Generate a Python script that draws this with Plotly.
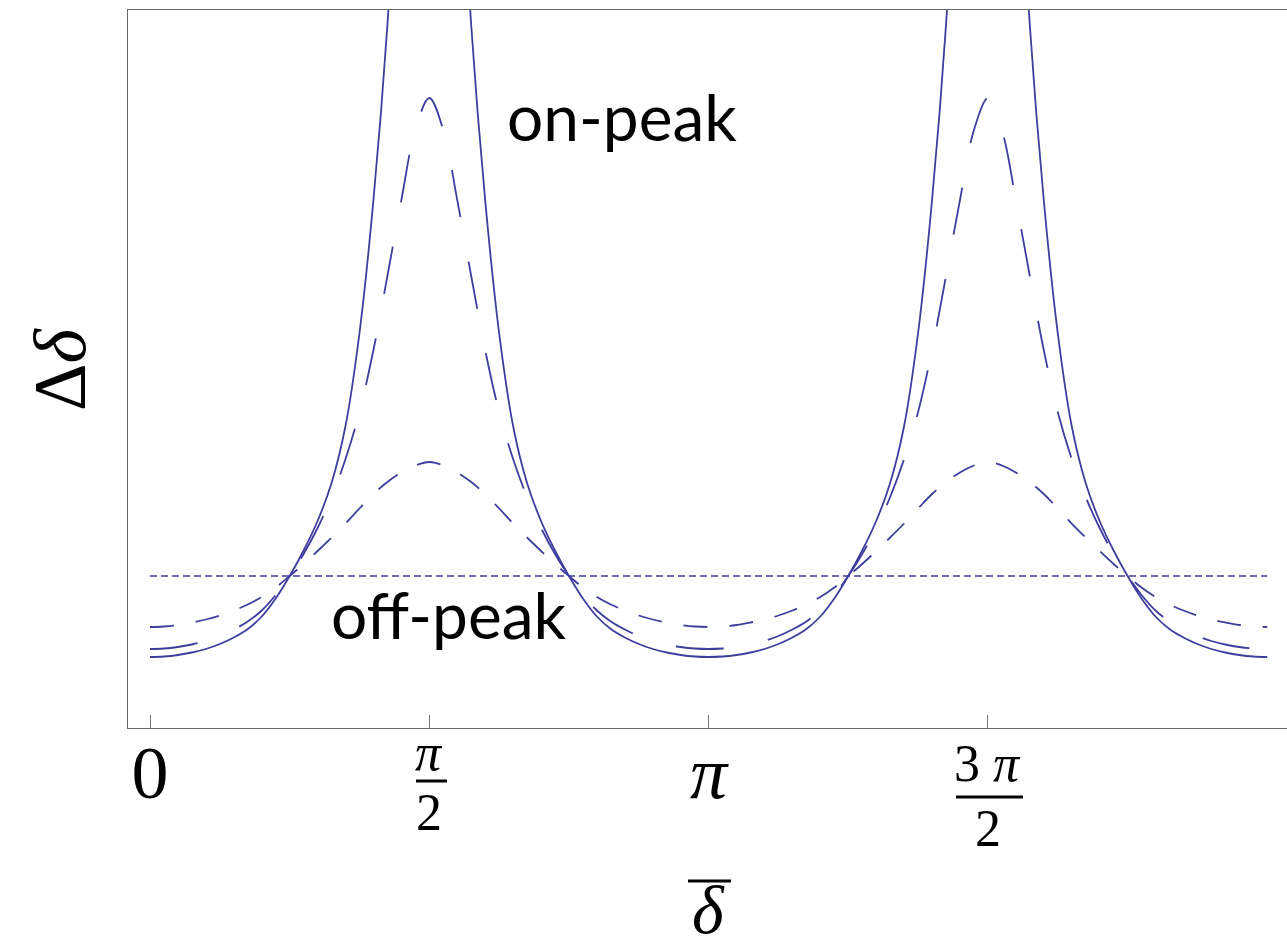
import numpy as np
import plotly.graph_objects as go

# sample positions, in units of pi
delta_over_pi = [0.000, 0.025, 0.050, 0.075, 0.100, 0.125, 0.150, 0.175, 0.200, 0.225,
                 0.250, 0.275, 0.300, 0.325, 0.350, 0.375, 0.400, 0.425, 0.450, 0.475,
                 0.500, 0.525, 0.550, 0.575, 0.600, 0.625, 0.650, 0.675, 0.700, 0.725,
                 0.750, 0.775, 0.800, 0.825, 0.850, 0.875, 0.900, 0.925, 0.950, 0.975,
                 1.000, 1.025, 1.050, 1.075, 1.100, 1.125, 1.150, 1.175, 1.200, 1.225,
                 1.250, 1.275, 1.300, 1.325, 1.350, 1.375, 1.400, 1.425, 1.450, 1.475,
                 1.500, 1.525, 1.550, 1.575, 1.600, 1.625, 1.650, 1.675, 1.700, 1.725,
                 1.750, 1.775, 1.800, 1.825, 1.850, 1.875, 1.900, 1.925, 1.950, 1.975,
                 2.000]

# solid curve (diverging on-peak)
solid = [0.710, 0.715, 0.730, 0.755, 0.790, 0.840, 0.905, 0.990, 1.115, 1.295,
         1.520, 1.775, 2.070, 2.450, 3.020, 3.950, 5.280, 7.030, 9.600, 12.50,
         14.00, 12.50, 9.600, 7.030, 5.280, 3.950, 3.020, 2.450, 2.070, 1.775,
         1.520, 1.295, 1.115, 0.990, 0.905, 0.840, 0.790, 0.755, 0.730, 0.715,
         0.710, 0.715, 0.730, 0.755, 0.790, 0.840, 0.905, 0.990, 1.115, 1.295,
         1.520, 1.775, 2.070, 2.450, 3.020, 3.950, 5.280, 7.030, 9.600, 12.50,
         14.00, 12.50, 9.600, 7.030, 5.280, 3.950, 3.020, 2.450, 2.070, 1.775,
         1.520, 1.295, 1.115, 0.990, 0.905, 0.840, 0.790, 0.755, 0.730, 0.715,
         0.710]

# long-dashed curve
long_dashed = [0.790, 0.795, 0.810, 0.835, 0.870, 0.920, 0.985, 1.065, 1.175, 1.330,
               1.520, 1.740, 2.000, 2.310, 2.690, 3.160, 3.780, 4.520, 5.280, 5.980,
               6.300, 5.980, 5.280, 4.520, 3.780, 3.160, 2.690, 2.310, 2.000, 1.740,
               1.520, 1.330, 1.175, 1.065, 0.985, 0.920, 0.870, 0.835, 0.810, 0.795,
               0.790, 0.795, 0.810, 0.835, 0.870, 0.920, 0.985, 1.065, 1.175, 1.330,
               1.520, 1.740, 2.000, 2.310, 2.690, 3.160, 3.780, 4.520, 5.280, 5.980,
               6.300, 5.980, 5.280, 4.520, 3.780, 3.160, 2.690, 2.310, 2.000, 1.740,
               1.520, 1.330, 1.175, 1.065, 0.985, 0.920, 0.870, 0.835, 0.810, 0.795,
               0.790]

# short-dashed curve
short_dashed = [1.010, 1.015, 1.030, 1.055, 1.085, 1.125, 1.175, 1.235, 1.310, 1.405,
                1.520, 1.640, 1.770, 1.905, 2.045, 2.195, 2.340, 2.460, 2.555, 2.625,
                2.660, 2.625, 2.555, 2.460, 2.340, 2.195, 2.045, 1.905, 1.770, 1.640,
                1.520, 1.405, 1.310, 1.235, 1.175, 1.125, 1.085, 1.055, 1.030, 1.015,
                1.010, 1.015, 1.030, 1.055, 1.085, 1.125, 1.175, 1.235, 1.310, 1.405,
                1.520, 1.640, 1.770, 1.905, 2.045, 2.195, 2.340, 2.460, 2.555, 2.625,
                2.660, 2.625, 2.555, 2.460, 2.340, 2.195, 2.045, 1.905, 1.770, 1.640,
                1.520, 1.405, 1.310, 1.235, 1.175, 1.125, 1.085, 1.055, 1.030, 1.015,
                1.010]

off_peak_x_over_pi = [0.0, 2.0]
off_peak_level = [1.52, 1.52]

tick_over_pi = [0.0, 0.5, 1.0, 1.5]
tick_text = ["0", "", "<i>π</i>", ""]

COL = "rgb(62,62,158)"
W, H = 1287, 950
L, R, T, B = 128, 0, 10, 222
PW, PH = W - L - R, H - T - B

x = [v * np.pi for v in delta_over_pi]

fig = go.Figure()
fig.add_trace(go.Scatter(x=[v * np.pi for v in off_peak_x_over_pi], y=off_peak_level,
                         mode="lines", line=dict(color=COL, width=1.7, dash="7px,4px")))
fig.add_trace(go.Scatter(x=x, y=short_dashed, mode="lines",
                         line=dict(color=COL, width=1.8, dash="24px,22px", shape="spline")))
fig.add_trace(go.Scatter(x=x, y=long_dashed, mode="lines",
                         line=dict(color=COL, width=1.8, dash="48px,45px", shape="spline")))
fig.add_trace(go.Scatter(x=x, y=solid, mode="lines",
                         line=dict(color=COL, width=1.8, shape="spline")))

def px2x(px):
    return (px - L) / PW

def py2y(py):
    return (H - B - py) / PH

serif = "Liberation Serif"
sans = "Lato"
ann = []
# fraction labels
ann.append(dict(x=0.5 * np.pi, xref="x", y=py2y(752), yref="paper", text="<i>π</i>",
                font=dict(family=serif, size=52, color="black"), showarrow=False,
                xanchor="center", yanchor="middle"))
ann.append(dict(x=0.5 * np.pi, xref="x", y=py2y(812), yref="paper", text="2",
                font=dict(family=serif, size=52, color="black"), showarrow=False,
                xanchor="center", yanchor="middle"))
ann.append(dict(x=1.5 * np.pi, xref="x", y=py2y(763), yref="paper", text="3 <i>π</i>",
                font=dict(family=serif, size=52, color="black"), showarrow=False,
                xanchor="center", yanchor="middle"))
ann.append(dict(x=1.5 * np.pi, xref="x", y=py2y(828), yref="paper", text="2",
                font=dict(family=serif, size=52, color="black"), showarrow=False,
                xanchor="center", yanchor="middle"))
# axis titles
ann.append(dict(x=1.0 * np.pi, xref="x", y=py2y(949), yref="paper", text="<i>δ</i>",
                font=dict(family=serif, size=68, color="black"), showarrow=False,
                xanchor="center", yanchor="bottom", borderpad=0))
ann.append(dict(x=px2x(60), xref="paper", y=py2y(369), yref="paper", text="Δ<i>δ</i>",
                font=dict(family=serif, size=74, color="black"), showarrow=False,
                textangle=-90, xanchor="center", yanchor="middle"))
# curve labels
ann.append(dict(x=px2x(622), xref="paper", y=py2y(117), yref="paper", text="on-peak",
                font=dict(family=sans, size=64, color="black"), showarrow=False,
                xanchor="center", yanchor="middle"))
ann.append(dict(x=px2x(448), xref="paper", y=py2y(614), yref="paper", text="off-peak",
                font=dict(family=sans, size=64, color="black"), showarrow=False,
                xanchor="center", yanchor="middle"))

shapes = []
# fraction bars and overbar
for (x0, x1, py) in [(416, 447, 781), (956, 1023, 797), (688, 731, 881)]:
    shapes.append(dict(type="line", xref="paper", yref="paper",
                       x0=px2x(x0), x1=px2x(x1), y0=py2y(py), y1=py2y(py),
                       line=dict(color="black", width=3)))

xr0 = 0 - 22 / 177.81
xr1 = (W - 150) / 177.81
fig.update_layout(
    width=W, height=H, margin=dict(l=L, r=R, t=T, b=B),
    paper_bgcolor="white", plot_bgcolor="white", showlegend=False,
    annotations=ann, shapes=shapes,
    xaxis=dict(range=[xr0, xr1], tickvals=[v * np.pi for v in tick_over_pi], ticktext=tick_text,
               ticks="inside", ticklen=13, tickwidth=1, tickcolor="#777",
               showline=True, linecolor="#666", linewidth=1, mirror=True,
               showgrid=False, zeroline=False, ticklabelstandoff=-20,
               tickfont=dict(family=serif, size=74, color="black")),
    yaxis=dict(range=[0, 7.18], showline=True, linecolor="#666", linewidth=1,
               showticklabels=False, ticks="", showgrid=False, zeroline=False),
)
fig.write_html("out.html")
